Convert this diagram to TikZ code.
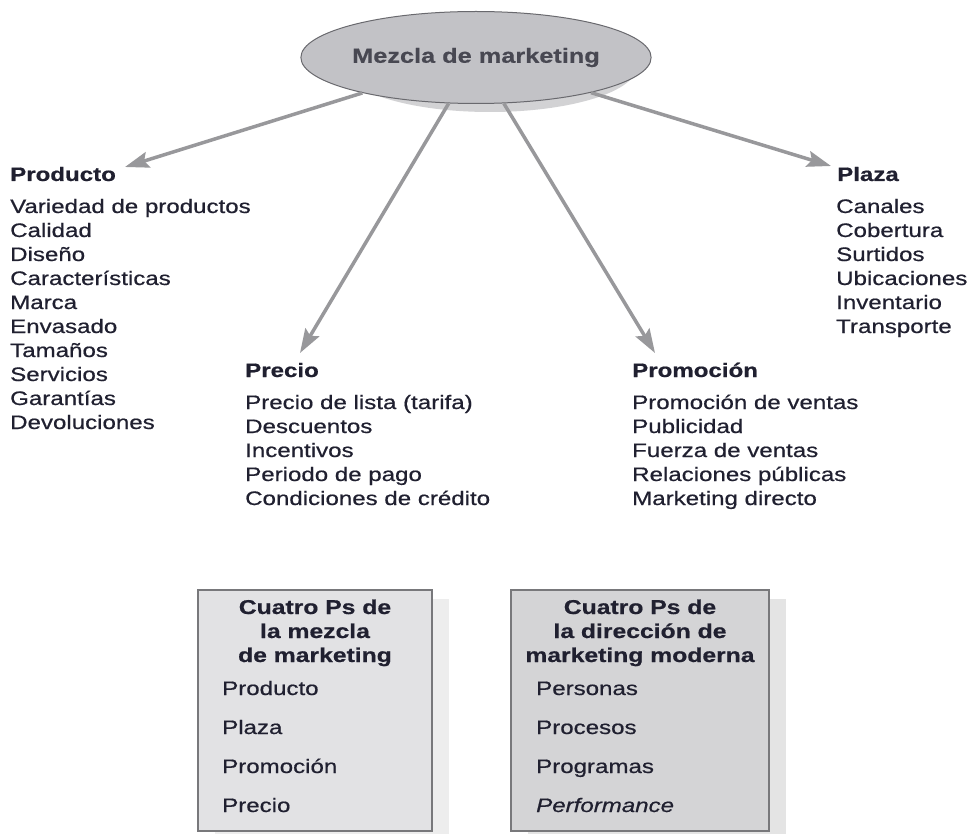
\documentclass[tikz,border=0pt]{standalone}
\usepackage{fontspec}
\setmainfont{Liberation Sans}[FakeStretch=1.235,FakeBold=0.6]
\usetikzlibrary{shapes.geometric,arrows.meta}
\definecolor{txt}{RGB}{32,32,48}
\definecolor{ellfill}{RGB}{194,194,198}
\definecolor{ellshadow}{RGB}{210,210,212}
\definecolor{ellline}{RGB}{105,105,110}
\definecolor{elltext}{RGB}{72,72,82}
\definecolor{arrowgray}{RGB}{152,152,155}
\definecolor{boxA}{RGB}{226,226,228}
\definecolor{boxB}{RGB}{212,212,214}
\definecolor{shadA}{RGB}{237,237,237}
\definecolor{shadB}{RGB}{228,228,228}
\definecolor{boxline}{RGB}{120,120,123}
\begin{document}
\begin{tikzpicture}[x=1pt,y=-1pt,
  item/.style={anchor=base west, inner sep=0pt, text=txt, font=\fontsize{19.5}{24}\selectfont},
  head/.style={anchor=base west, inner sep=0pt, text=txt, font=\fontsize{19.5}{24}\selectfont\bfseries},
  boxtitle/.style={anchor=base, inner sep=0pt, text=txt, font=\fontsize{20}{24}\selectfont\bfseries},
  conn/.style={draw=arrowgray, line width=3.5pt, -{Stealth[length=24pt,width=16pt,inset=4pt]}},
  panel/.style={draw=boxline, line width=1.5pt},
]
\useasboundingbox (0,0) rectangle (974,834);
\fill[white] (0,0) rectangle (974,834);
\begin{scope}
\clip (0,0) rectangle (974,834);
% central ellipse
\node[ellipse, fill=ellshadow, minimum width=294pt, minimum height=92pt, inner sep=0pt] (ellsh) at (490,66) {};
\node[ellipse, fill=ellfill, draw=ellline, line width=1pt, minimum width=294pt, minimum height=92pt, inner sep=0pt,
      text=elltext, font=\fontsize{20.5}{24}\selectfont\bfseries] (mix) at (476,57.5) {Mezcla de marketing};

% arrow tips
\coordinate (tprod) at (125,167);
\coordinate (tprec) at (300,353);
\coordinate (tprom) at (655,353);
\coordinate (tplaz) at (831,166);
\draw[conn] (mix) -- (tprod);
\draw[conn] (mix) -- (tprec);
\draw[conn] (mix) -- (tprom);
\draw[conn] (mix) -- (tplaz);

% Producto
\node[head] (prodh) at (10,181) {Producto};
\foreach \t [count=\i from 0] in {Variedad de productos,Calidad,Diseño,Características,Marca,Envasado,Tamaños,Servicios,Garantías,Devoluciones}
  \node[item] (prod\i) at (10,213+24*\i) {\t};

% Plaza
\node[head] (plazh) at (837,181) {Plaza};
\foreach \t [count=\i from 0] in {Canales,Cobertura,Surtidos,Ubicaciones,Inventario,Transporte}
  \node[item] (plaz\i) at (836,213+24*\i) {\t};

% Precio
\node[head] (prech) at (245,377) {Precio};
\foreach \t [count=\i from 0] in {Precio de lista (tarifa),Descuentos,Incentivos,Periodo de pago,Condiciones de crédito}
  \node[item] (prec\i) at (245,409+24*\i) {\t};

% Promocion
\node[head] (promh) at (632,377) {Promoción};
\foreach \t [count=\i from 0] in {Promoción de ventas,Publicidad,Fuerza de ventas,Relaciones públicas,Marketing directo}
  \node[item] (prom\i) at (632,409+24*\i) {\t};

% Boxes
\fill[shadA] (215,599) rectangle (449,850);
\fill[shadB] (528,599) rectangle (786,850);
\draw[panel, fill=boxA] (198,590) rectangle (432,831);
\draw[panel, fill=boxB] (511,590) rectangle (769,831);

\node[boxtitle] (la1) at (315,614) {Cuatro Ps de};
\node[boxtitle] (la2) at (315,638) {la mezcla};
\node[boxtitle] (la3) at (315,662) {de marketing};
\node[item] (li1) at (222,695) {Producto};
\node[item] (li2) at (222,734) {Plaza};
\node[item] (li3) at (222,773) {Promoción};
\node[item] (li4) at (222,812) {Precio};

\node[boxtitle] (ra1) at (640,614) {Cuatro Ps de};
\node[boxtitle] (ra2) at (640,638) {la dirección de};
\node[boxtitle] (ra3) at (640,662) {marketing moderna};
\node[item] (ri1) at (536,695) {Personas};
\node[item] (ri2) at (536,734) {Procesos};
\node[item] (ri3) at (536,773) {Programas};
\node[item, font=\fontsize{19.5}{24}\selectfont\itshape] (ri4) at (536,812) {Performance};
\end{scope}
\end{tikzpicture}
\end{document}
